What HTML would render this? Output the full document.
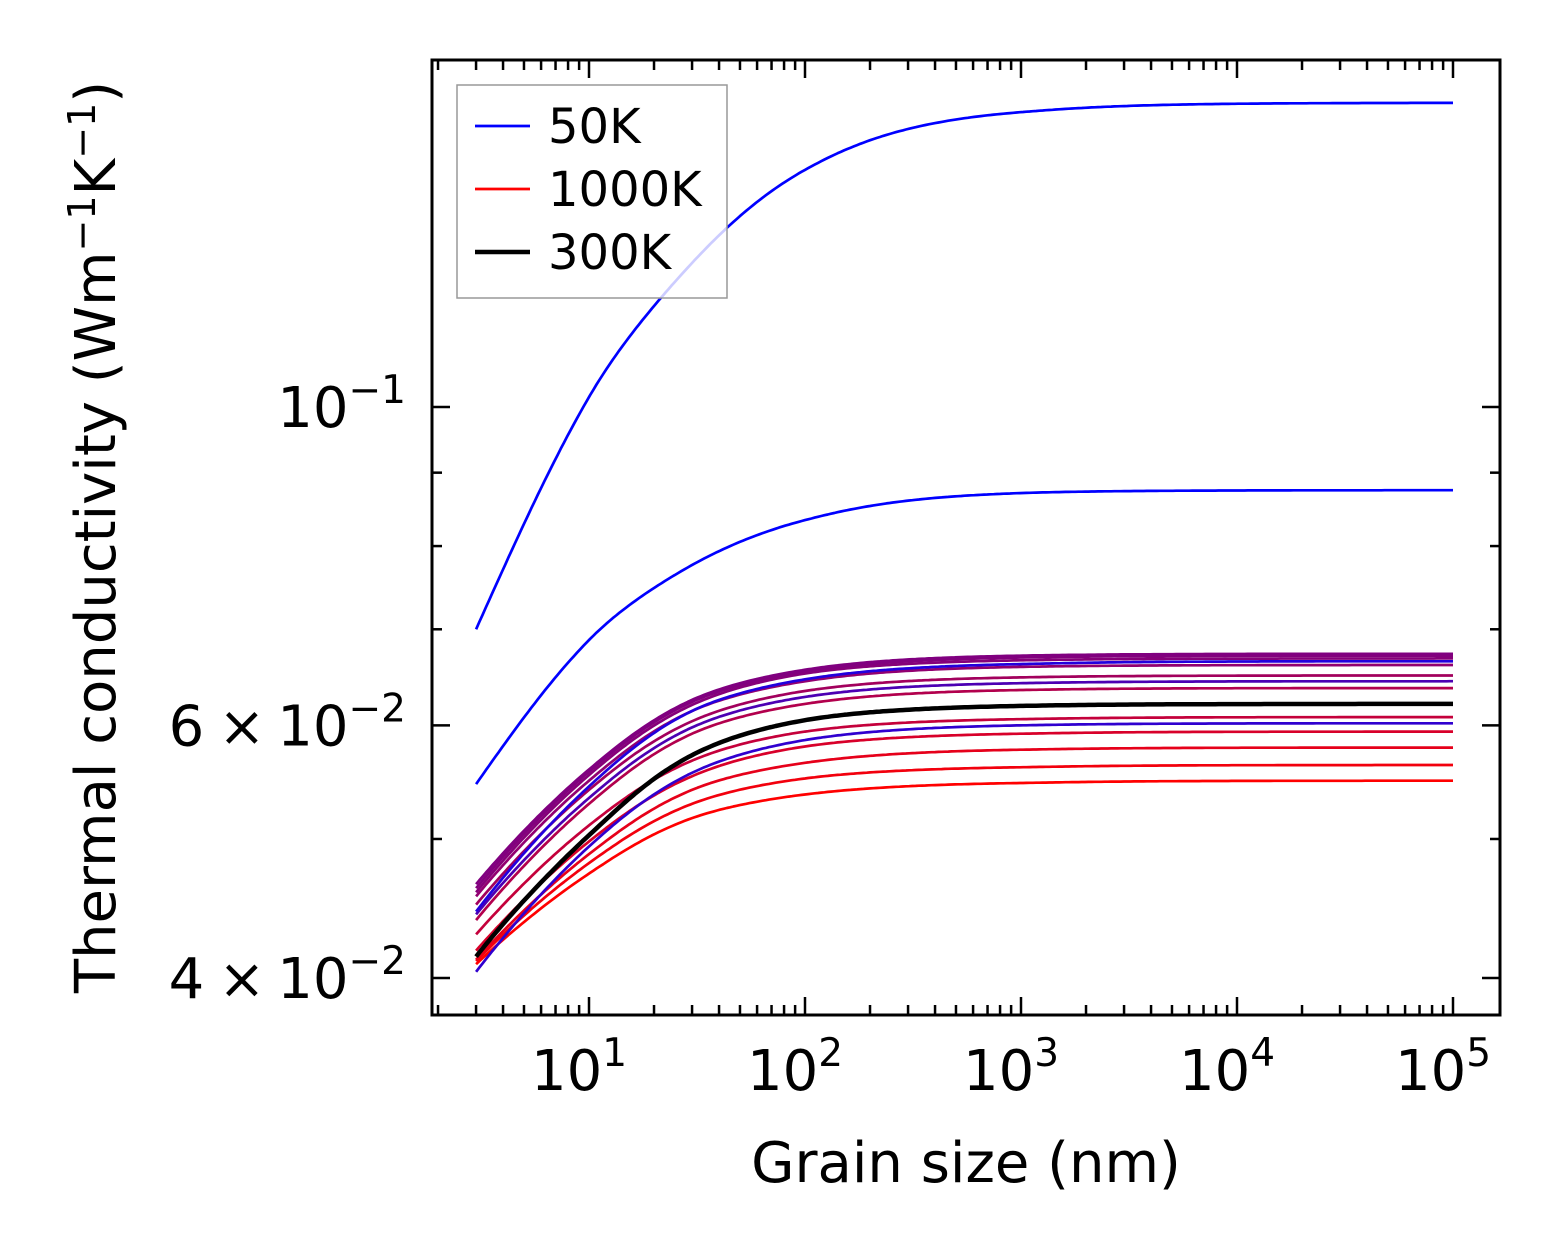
<!DOCTYPE html>
<html><head><meta charset="utf-8">
<style>
html,body{margin:0;padding:0;background:#fff;}
svg{display:block;font-family:"DejaVu Sans","Liberation Sans",sans-serif;}
</style></head>
<body>
<svg id="chart" width="1562" height="1254" viewBox="0 0 1562 1254" xmlns="http://www.w3.org/2000/svg">
  <rect x="0" y="0" width="1562" height="1254" fill="#fff"/>
  <g id="curves"></g>
  <g id="ticks"></g>
  <rect x="432" y="60" width="1068" height="955" fill="none" stroke="#000" stroke-width="3"/>
  <g>
    <rect x="457" y="85" width="270" height="213" fill="#fff" fill-opacity="0.8" stroke="#999" stroke-width="1.5"/>
    <line x1="475" y1="126" x2="530" y2="126" stroke="#0000ff" stroke-width="2.7"/>
    <text x="548" y="143" font-size="48">50K</text>
    <line x1="475" y1="189" x2="530" y2="189" stroke="#ff0000" stroke-width="2.7"/>
    <text x="548" y="206" font-size="48">1000K</text>
    <line x1="475" y1="252" x2="530" y2="252" stroke="#000" stroke-width="4.5"/>
    <text x="548" y="269" font-size="48">300K</text>
  </g>
  <text x="966" y="1182" font-size="56" text-anchor="middle">Grain size (nm)</text>
  <text transform="translate(115,537) rotate(-90)" font-size="56" text-anchor="middle">Thermal conductivity (Wm<tspan dy="-20" font-size="38">−1</tspan><tspan dy="20">K</tspan><tspan dy="-20" font-size="38">−1</tspan><tspan dy="20">)</tspan></text>
  <g id="labels"></g>
</svg>
<script>
const NS = "http://www.w3.org/2000/svg";
// data
const grainSizes = [3, 10, 30, 100, 1000, 100000];
const blueTop    = [0.0700, 0.1016, 0.1260, 0.1463, 0.1605, 0.1629];
const blueSecond = [0.0546, 0.0688, 0.0776, 0.0834, 0.0871, 0.0875];
const curveA = [0.0465, 0.0559, 0.0625, 0.0656, 0.0671, 0.0673];
const curveB = [0.0462, 0.0557, 0.0623, 0.0654, 0.0669, 0.0671];
const curveC = [0.0459, 0.0554, 0.0620, 0.0652, 0.0666, 0.0668];
const curveD = [0.0445, 0.0544, 0.0614, 0.0646, 0.0662, 0.0665];
const curveE = [0.0456, 0.0549, 0.0614, 0.0644, 0.0659, 0.0661];
const curveF = [0.0450, 0.0541, 0.0604, 0.0634, 0.0648, 0.0650];
const curveG = [0.0443, 0.0534, 0.0598, 0.0628, 0.0642, 0.0644];
const curveH = [0.0439, 0.0529, 0.0592, 0.0621, 0.0635, 0.0637];
const curveI = [0.0429, 0.0511, 0.0567, 0.0594, 0.0606, 0.0608];
const curveJ = [0.0404, 0.0494, 0.0556, 0.0586, 0.0600, 0.0602];
const curveK = [0.0418, 0.0498, 0.0553, 0.0580, 0.0592, 0.0594];
const curveL = [0.0412, 0.0488, 0.0541, 0.0565, 0.0577, 0.0579];
const curveM = [0.0411, 0.0481, 0.0529, 0.0551, 0.0561, 0.0563];
const curveN = [0.0409, 0.0473, 0.0517, 0.0537, 0.0547, 0.0549];
const curve300K = [0.0414, 0.0503, 0.0572, 0.0605, 0.0619, 0.0621];
const xTickExps = [1, 2, 3, 4, 5];
const yLabeled = [0.04, 0.06, 0.1];
const yMinor = [0.05, 0.07, 0.08, 0.09];

const series = [
  {name:"curve-50k-top", v:blueTop, c:"#0000ff", w:2.7, k:30},
  {name:"curve-50k-second", v:blueSecond, c:"#0000ff", w:2.7, k:20},
  {name:"curve-n", v:curveN, c:"#ff0000", w:2.7, k:12},
  {name:"curve-m", v:curveM, c:"#f2000d", w:2.7, k:12},
  {name:"curve-l", v:curveL, c:"#e6001a", w:2.7, k:12},
  {name:"curve-k", v:curveK, c:"#d8002a", w:2.7, k:12},
  {name:"curve-j", v:curveJ, c:"#3000cf", w:2.7, k:12},
  {name:"curve-i", v:curveI, c:"#c4003b", w:2.7, k:12},
  {name:"curve-h", v:curveH, c:"#b2004d", w:2.7, k:12},
  {name:"curve-g", v:curveG, c:"#4c00b3", w:2.7, k:12},
  {name:"curve-f", v:curveF, c:"#a2005d", w:2.7, k:12},
  {name:"curve-e", v:curveE, c:"#920070", w:2.7, k:12},
  {name:"curve-d", v:curveD, c:"#2200dd", w:2.7, k:12},
  {name:"curve-c", v:curveC, c:"#860079", w:2.7, k:12},
  {name:"curve-b", v:curveB, c:"#82007d", w:2.7, k:12},
  {name:"curve-a", v:curveA, c:"#800080", w:2.7, k:12},
  {name:"curve-300k", v:curve300K, c:"#000000", w:4.5, k:12}
];

function xs(v){ return 589 + 216*(Math.log10(v) - 1); }
function ys(v){ return 407 - 1435*(Math.log10(v) + 1); }
// smoothing coordinate used only for rendering interpolation between data points
function sc(x, k){ return Math.log10(1 + k/x); }

function smoothInterp(px, py){
  const n=px.length, m=[];
  for(let i=0;i<n;i++){
    if(i===0) m[i]=(py[1]-py[0])/(px[1]-px[0]);
    else if(i===n-1) m[i]=(py[n-1]-py[n-2])/(px[n-1]-px[n-2]);
    else m[i]=(py[i+1]-py[i-1])/(px[i+1]-px[i-1]);
  }
  return function(x){
    let i=0; while(i<n-2 && x>px[i+1]) i++;
    const h=px[i+1]-px[i], t=(x-px[i])/h, t2=t*t, t3=t2*t;
    return (2*t3-3*t2+1)*py[i]+(t3-2*t2+t)*h*m[i]+(-2*t3+3*t2)*py[i+1]+(t3-t2)*h*m[i+1];
  };
}

function pathFor(vals, k){
  const idx = grainSizes.map((g,i)=>i).reverse();
  const px = idx.map(i=>sc(grainSizes[i], k));
  const py = idx.map(i=>Math.log10(vals[i]));
  const f = smoothInterp(px, py);
  const x0=Math.log10(grainSizes[0]), x1=Math.log10(grainSizes[grainSizes.length-1]);
  const N=300; let s="";
  for(let j=0;j<=N;j++){
    const lx = x0+(x1-x0)*j/N, x=Math.pow(10,lx);
    const v = Math.pow(10, f(sc(x, k)));
    s += (j?" L":"M")+xs(x).toFixed(1)+","+ys(v).toFixed(1);
  }
  return s;
}

const cg = document.getElementById("curves");
series.forEach(s=>{
  const el = document.createElementNS(NS,"path");
  el.setAttribute("d", pathFor(s.v, s.k));
  el.setAttribute("fill","none");
  el.setAttribute("stroke", s.c);
  el.setAttribute("stroke-width", s.w);
  el.setAttribute("stroke-linejoin","round");
  
  
  cg.appendChild(el);
});

const tg = document.getElementById("ticks");
const lg = document.getElementById("labels");
function tick(x1,y1,x2,y2,name){
  const l = document.createElementNS(NS,"line");
  l.setAttribute("x1",x1); l.setAttribute("y1",y1); l.setAttribute("x2",x2); l.setAttribute("y2",y2);
  l.setAttribute("stroke","#000"); l.setAttribute("stroke-width","2.5");
  
  
  tg.appendChild(l);
}
for(let e=0;e<=5;e++){
  for(let k=1;k<=9;k++){
    const v = k*Math.pow(10,e);
    const x = xs(v);
    if(x<433 || x>1499) continue;
    const L = (k===1)?18:10;
    tick(x,1015,x,1015-L,"x-tick");
    tick(x,60,x,60+L,"x-tick-top");
  }
}
xTickExps.forEach(e=>{
  const t = document.createElementNS(NS,"text");
  t.setAttribute("x", xs(Math.pow(10,e)) - 10);
  t.setAttribute("y", 1090);
  t.setAttribute("font-size", "56");
  t.setAttribute("text-anchor","middle");
  t.innerHTML = '10<tspan dy="-24" font-size="39">'+e+'</tspan>';
  
  
  lg.appendChild(t);
});
yLabeled.forEach(v=>{
  const y=ys(v);
  tick(432,y,450,y,"y-tick"); tick(1500,y,1482,y,"y-tick-right");
});
yMinor.forEach(v=>{
  const y=ys(v);
  tick(432,y,442,y,"y-minor-tick"); tick(1500,y,1490,y,"y-minor-tick-right");
});
const yLabelHtml = ['4<tspan dx="14">×</tspan><tspan dx="12">10</tspan><tspan dy="-24" font-size="39">−2</tspan>',
                    '6<tspan dx="14">×</tspan><tspan dx="12">10</tspan><tspan dy="-24" font-size="39">−2</tspan>',
                    '10<tspan dy="-24" font-size="39">−1</tspan>'];
yLabeled.forEach((v,i)=>{
  const t = document.createElementNS(NS,"text");
  t.setAttribute("x", 406);
  t.setAttribute("y", ys(v)+20);
  t.setAttribute("font-size","56");
  t.setAttribute("text-anchor","end");
  t.innerHTML = yLabelHtml[i];
  
  
  lg.appendChild(t);
});
</script>
</body></html>
